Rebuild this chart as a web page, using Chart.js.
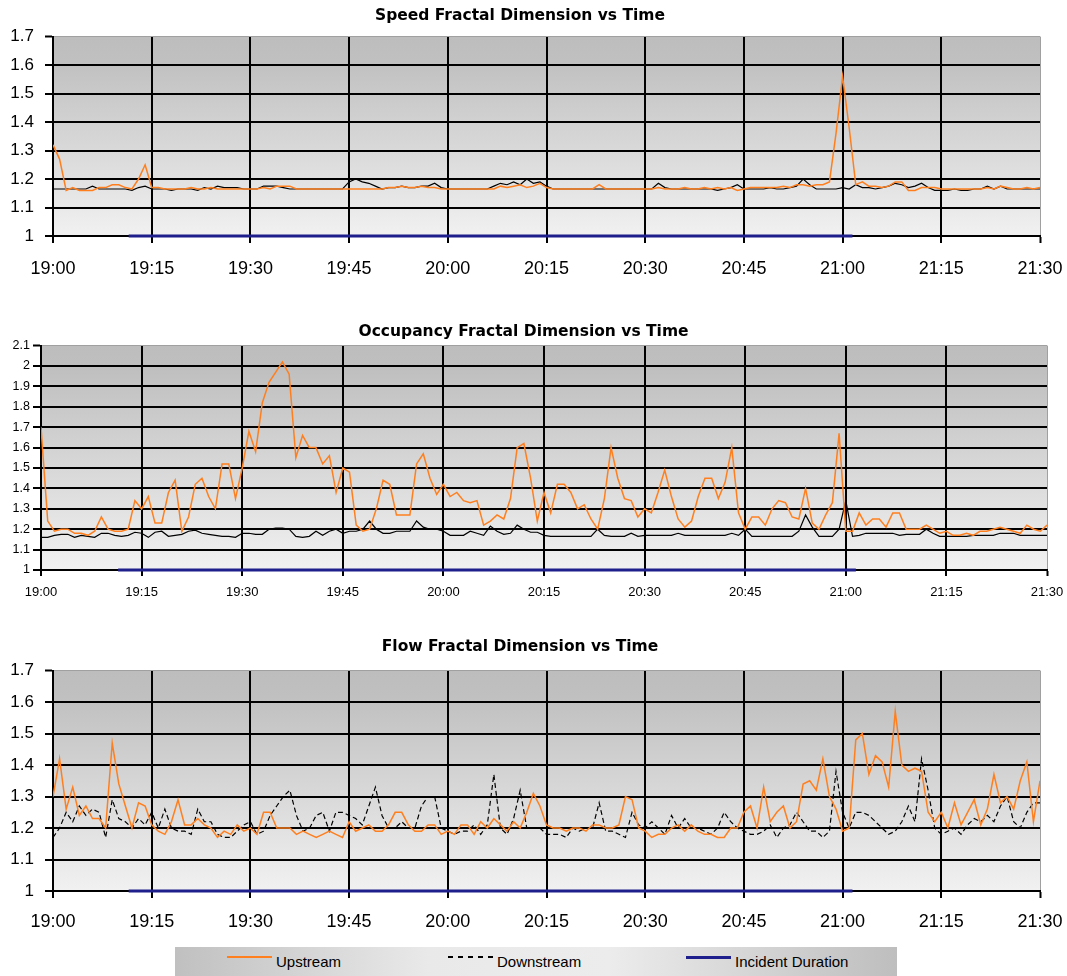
<!DOCTYPE html>
<html>
<head>
<meta charset="utf-8">
<script src="https://cdn.jsdelivr.net/npm/chart.js@4.4.0/dist/chart.umd.min.js"></script>
<style>
  body { margin:0; background:#fff; width:1067px; height:976px; overflow:hidden; position:relative; }
  canvas { position:absolute; left:0; }
  #legend { position:absolute; left:175px; top:947px; width:722px; height:32px;
    background:linear-gradient(to right, #c0c0c0, #e9e9e9 35%, #ececec 60%, #bebebe); }
  .item { position:absolute; top:6px; font-family:'Liberation Sans',sans-serif; font-size:15px; line-height:18px; color:#000; }
  .swatch { position:absolute; top:9px; width:45px; height:2px; }
</style>
</head>
<body>
<canvas id="c1" width="1067" height="300" style="top:0px"></canvas>
<canvas id="c2" width="1067" height="310" style="top:300px"></canvas>
<canvas id="c3" width="1067" height="325" style="top:610px"></canvas>
<div id="legend">
  <div class="swatch" style="left:52px;background:#ff7f1e"></div>
  <div class="item" style="left:101px">Upstream</div>
  <div class="swatch" style="left:273px;height:1.5px;background:repeating-linear-gradient(to right,#000 0 5px,transparent 5px 10px)"></div>
  <div class="item" style="left:322px">Downstream</div>
  <div class="swatch" style="left:511px;height:3px;background:#1e1e8c"></div>
  <div class="item" style="left:560px">Incident Duration</div>
</div>
<script>
'use strict';

// x axis labels, one every 15 minutes
var timeLabels = ['19:00','19:15','19:30','19:45','20:00','20:15','20:30','20:45','21:00','21:15','21:30'];

// one reading per minute from 19:00 to 21:30
var speedUp = [
  1.32,1.27,1.16,1.17,1.16,1.16,1.16,1.17,1.17,1.18,
  1.18,1.17,1.165,1.20,1.25,1.17,1.17,1.165,1.165,1.165,
  1.165,1.17,1.165,1.165,1.17,1.165,1.165,1.165,1.165,1.165,
  1.165,1.165,1.17,1.165,1.175,1.175,1.175,1.165,1.165,1.165,
  1.165,1.165,1.165,1.165,1.165,1.165,1.165,1.165,1.165,1.165,
  1.165,1.17,1.17,1.175,1.17,1.17,1.175,1.17,1.17,1.165,
  1.165,1.165,1.165,1.165,1.165,1.165,1.165,1.165,1.175,1.17,
  1.175,1.18,1.17,1.175,1.185,1.17,1.165,1.165,1.165,1.165,
  1.165,1.165,1.165,1.18,1.165,1.165,1.165,1.165,1.165,1.165,
  1.165,1.165,1.17,1.165,1.165,1.165,1.17,1.165,1.165,1.17,
  1.165,1.17,1.165,1.17,1.16,1.165,1.17,1.17,1.17,1.17,
  1.17,1.175,1.17,1.18,1.18,1.175,1.18,1.18,1.19,1.36,
  1.56,1.38,1.18,1.19,1.175,1.175,1.17,1.175,1.19,1.19,
  1.16,1.16,1.17,1.17,1.17,1.165,1.165,1.165,1.165,1.165,
  1.165,1.165,1.17,1.165,1.175,1.17,1.165,1.165,1.17,1.165,
  1.17
];
var speedDown = [
  1.165,1.165,1.165,1.165,1.165,1.165,1.175,1.165,1.165,1.165,
  1.165,1.165,1.16,1.17,1.175,1.165,1.165,1.165,1.16,1.165,
  1.165,1.165,1.16,1.17,1.165,1.175,1.17,1.17,1.17,1.165,
  1.165,1.165,1.175,1.175,1.175,1.17,1.165,1.165,1.165,1.165,
  1.165,1.165,1.165,1.165,1.165,1.19,1.2,1.19,1.185,1.175,
  1.165,1.17,1.17,1.175,1.17,1.17,1.175,1.175,1.185,1.17,
  1.165,1.165,1.165,1.165,1.165,1.165,1.165,1.175,1.185,1.18,
  1.19,1.18,1.2,1.185,1.19,1.175,1.165,1.165,1.165,1.165,
  1.165,1.165,1.165,1.165,1.165,1.165,1.165,1.165,1.165,1.165,
  1.165,1.165,1.185,1.17,1.165,1.165,1.165,1.165,1.165,1.165,
  1.165,1.16,1.165,1.17,1.18,1.165,1.165,1.165,1.165,1.17,
  1.165,1.165,1.17,1.175,1.2,1.18,1.165,1.165,1.165,1.165,
  1.17,1.165,1.18,1.17,1.17,1.165,1.17,1.175,1.185,1.18,
  1.17,1.175,1.185,1.17,1.16,1.16,1.16,1.165,1.16,1.16,
  1.165,1.165,1.175,1.165,1.175,1.165,1.165,1.165,1.165,1.165,
  1.165
];
var occUp = [
  1.70,1.24,1.19,1.20,1.20,1.18,1.18,1.17,1.19,1.26,
  1.20,1.19,1.19,1.20,1.34,1.30,1.36,1.23,1.23,1.38,
  1.44,1.19,1.26,1.42,1.45,1.36,1.30,1.52,1.52,1.35,
  1.50,1.68,1.58,1.82,1.92,1.97,2.02,1.96,1.55,1.66,
  1.60,1.60,1.52,1.56,1.38,1.50,1.48,1.22,1.19,1.20,
  1.30,1.44,1.42,1.27,1.27,1.27,1.52,1.57,1.45,1.37,
  1.42,1.36,1.38,1.34,1.33,1.34,1.22,1.24,1.27,1.25,
  1.35,1.60,1.62,1.45,1.24,1.38,1.28,1.42,1.42,1.38,
  1.30,1.32,1.25,1.20,1.35,1.60,1.45,1.35,1.34,1.26,
  1.30,1.28,1.38,1.49,1.36,1.25,1.21,1.24,1.36,1.45,
  1.45,1.35,1.43,1.60,1.28,1.20,1.26,1.26,1.22,1.30,
  1.34,1.33,1.26,1.25,1.40,1.23,1.20,1.27,1.33,1.67,
  1.19,1.19,1.28,1.22,1.25,1.25,1.21,1.28,1.28,1.20,
  1.20,1.20,1.22,1.20,1.18,1.19,1.17,1.17,1.18,1.17,
  1.19,1.19,1.20,1.21,1.20,1.19,1.18,1.22,1.20,1.19,
  1.22
];
var occDown = [
  1.16,1.16,1.17,1.175,1.175,1.16,1.17,1.165,1.16,1.18,
  1.18,1.17,1.165,1.17,1.185,1.18,1.16,1.185,1.19,1.165,
  1.17,1.175,1.19,1.195,1.18,1.175,1.17,1.165,1.165,1.16,
  1.18,1.18,1.175,1.175,1.2,1.205,1.205,1.2,1.165,1.16,
  1.165,1.19,1.17,1.19,1.2,1.18,1.19,1.19,1.2,1.24,
  1.2,1.18,1.18,1.19,1.19,1.19,1.24,1.21,1.2,1.2,
  1.19,1.17,1.17,1.17,1.19,1.18,1.17,1.215,1.19,1.175,
  1.18,1.22,1.2,1.185,1.185,1.17,1.165,1.165,1.165,1.165,
  1.165,1.165,1.165,1.2,1.17,1.165,1.165,1.165,1.18,1.165,
  1.17,1.17,1.17,1.17,1.17,1.18,1.17,1.17,1.17,1.17,
  1.17,1.17,1.17,1.18,1.17,1.2,1.165,1.165,1.165,1.165,
  1.165,1.165,1.165,1.19,1.27,1.21,1.165,1.165,1.165,1.2,
  1.34,1.165,1.17,1.18,1.18,1.18,1.18,1.18,1.17,1.175,
  1.175,1.175,1.2,1.18,1.165,1.165,1.165,1.165,1.165,1.17,
  1.17,1.17,1.17,1.18,1.18,1.18,1.17,1.17,1.17,1.17,
  1.17
];
var flowUp = [
  1.30,1.42,1.26,1.33,1.24,1.27,1.23,1.23,1.20,1.47,
  1.34,1.27,1.20,1.28,1.27,1.21,1.19,1.18,1.22,1.29,
  1.21,1.21,1.23,1.21,1.20,1.17,1.19,1.18,1.21,1.19,
  1.20,1.18,1.25,1.25,1.20,1.20,1.20,1.18,1.19,1.18,
  1.17,1.18,1.19,1.18,1.17,1.22,1.19,1.20,1.21,1.19,
  1.19,1.21,1.25,1.25,1.21,1.19,1.19,1.21,1.21,1.18,
  1.19,1.18,1.21,1.21,1.18,1.22,1.20,1.23,1.21,1.19,
  1.22,1.20,1.25,1.31,1.27,1.21,1.20,1.20,1.19,1.20,
  1.20,1.19,1.21,1.21,1.20,1.20,1.21,1.30,1.29,1.20,
  1.19,1.17,1.18,1.18,1.20,1.21,1.19,1.21,1.19,1.18,
  1.18,1.17,1.17,1.20,1.20,1.25,1.27,1.20,1.33,1.22,
  1.25,1.27,1.20,1.22,1.34,1.35,1.32,1.42,1.30,1.26,
  1.19,1.20,1.48,1.50,1.37,1.43,1.41,1.33,1.57,1.40,
  1.38,1.39,1.38,1.25,1.22,1.25,1.20,1.28,1.21,1.25,
  1.29,1.21,1.26,1.37,1.28,1.30,1.26,1.35,1.41,1.22,
  1.35
];
var flowDown = [
  1.17,1.20,1.25,1.22,1.27,1.24,1.26,1.25,1.17,1.29,
  1.23,1.22,1.20,1.23,1.21,1.25,1.20,1.26,1.20,1.19,
  1.19,1.18,1.26,1.22,1.22,1.18,1.17,1.17,1.19,1.21,
  1.22,1.18,1.19,1.24,1.27,1.30,1.32,1.24,1.19,1.20,
  1.24,1.25,1.19,1.25,1.25,1.24,1.23,1.21,1.27,1.33,
  1.24,1.20,1.20,1.22,1.20,1.20,1.27,1.30,1.30,1.20,
  1.19,1.18,1.19,1.19,1.21,1.18,1.21,1.37,1.20,1.18,
  1.23,1.32,1.20,1.20,1.20,1.18,1.18,1.18,1.17,1.20,
  1.19,1.20,1.20,1.28,1.19,1.19,1.18,1.17,1.25,1.21,
  1.20,1.22,1.20,1.18,1.24,1.20,1.23,1.20,1.20,1.19,
  1.18,1.20,1.25,1.22,1.20,1.19,1.18,1.18,1.19,1.21,
  1.17,1.20,1.21,1.25,1.22,1.19,1.19,1.17,1.19,1.38,
  1.25,1.20,1.25,1.25,1.24,1.22,1.20,1.18,1.19,1.22,
  1.27,1.22,1.42,1.32,1.20,1.18,1.19,1.20,1.18,1.21,
  1.23,1.22,1.24,1.22,1.27,1.30,1.22,1.20,1.25,1.28,
  1.28
];

// incident start and end, minutes after 19:00
var incidentWindow = [11.5, 121.5];
var incidentLevel = 1;

var minutes = speedUp.map(function(v, i){ return i; });

// grey gradient behind the plot area
var plotBg = {
  id: 'plotBg',
  beforeDraw: function(chart){
    var a = chart.chartArea;
    var ctx = chart.ctx;
    var g = ctx.createLinearGradient(0, a.top, 0, a.bottom);
    g.addColorStop(0, '#bdbdbd');
    g.addColorStop(0.12, '#c0c0c0');
    g.addColorStop(1, '#f1f1f1');
    ctx.save();
    ctx.fillStyle = g;
    ctx.fillRect(a.left, a.top, a.right - a.left, a.bottom - a.top);
    ctx.restore();
  }
};

function makePanel(id, p){
  var lastX = (timeLabels.length - 1) * 15;
  var upSet = {
    label: 'Upstream', data: p.up, borderColor: '#ff7f1e', borderWidth: 1.5,
    pointRadius: 0, tension: 0
  };
  var downSet = {
    label: 'Downstream', data: p.down, borderColor: '#000', borderWidth: 1.2,
    borderDash: p.dashed ? [5, 3] : [], pointRadius: 0, tension: 0
  };
  var incSet = {
    label: 'Incident Duration',
    data: [{x: incidentWindow[0], y: incidentLevel}, {x: incidentWindow[1], y: incidentLevel}],
    borderColor: '#1e1e8c', borderWidth: 3, pointRadius: 0, clip: 4
  };
  var ctx = document.getElementById(id).getContext('2d');
  return new Chart(ctx, {
    type: 'line',
    data: { labels: minutes, datasets: [incSet, upSet, downSet] },
    plugins: [plotBg],
    options: {
      responsive: false,
      animation: false,
      devicePixelRatio: 1,
      events: [],
      layout: { padding: { left: 0, right: p.right, top: 0, bottom: 0 } },
      plugins: {
        legend: { display: false },
        tooltip: { enabled: false },
        title: {
          display: true, text: p.title, color: '#000',
          font: { family: 'DejaVu Sans', weight: 'bold', size: 15.5 },
          padding: { top: p.titleTop, bottom: p.titleBottom }
        }
      },
      scales: {
        x: {
          type: 'linear', min: 0, max: lastX,
          afterFit: function(s){
            s.height = p.xHeight;
            // end labels may hang outside, the layout padding covers them
            s.paddingLeft = 0;
            s.paddingRight = 0;
          },
          ticks: {
            stepSize: 15, autoSkip: false, maxRotation: 0, padding: p.xPad, color: '#000',
            font: { family: p.family, size: p.xFont },
            callback: function(v){ return timeLabels[v / 15]; }
          },
          grid: {
            color: function(c){ return c.tick && c.tick.value === lastX ? '#a0a0a0' : '#000'; },
            lineWidth: function(c){ return c.tick && c.tick.value === lastX ? 1 : 2; },
            tickColor: '#000', tickWidth: 2, tickLength: p.xTick
          },
          border: { color: '#000', width: 2 }
        },
        y: {
          min: 1, max: p.yMax,
          afterFit: function(s){ s.width = p.yWidth; },
          ticks: {
            stepSize: 0.1, padding: p.yPad, color: '#000',
            font: { family: p.family, size: p.yFont },
            callback: function(v){ return String(+v.toFixed(1)); }
          },
          grid: {
            color: function(c){ return c.tick && c.tick.value > p.yMax - 0.001 ? '#a0a0a0' : '#000'; },
            lineWidth: function(c){ return c.tick && c.tick.value > p.yMax - 0.001 ? 1 : 2; },
            tickColor: '#000', tickWidth: 2, tickLength: p.yTick
          },
          border: { color: '#000', width: 2 }
        }
      }
    }
  });
}

makePanel('c1', {
  title: 'Speed Fractal Dimension vs Time', yMax: 1.7, up: speedUp, down: speedDown, dashed: false,
  family: 'Liberation Sans', xFont: 18, yFont: 17, xPad: 15, yPad: 11, xTick: 7, yTick: 8,
  yWidth: 53, xHeight: 64, right: 27, titleTop: 7, titleBottom: 11
});
makePanel('c2', {
  title: 'Occupancy Fractal Dimension vs Time', yMax: 2.1, up: occUp, down: occDown, dashed: false,
  family: 'Liberation Sans', xFont: 13, yFont: 12.5, xPad: 9, yPad: 3, xTick: 6, yTick: 8,
  yWidth: 41, xHeight: 40, right: 20, titleTop: 23, titleBottom: 4
});
makePanel('c3', {
  title: 'Flow Fractal Dimension vs Time', yMax: 1.7, up: flowUp, down: flowDown, dashed: true,
  family: 'Liberation Sans', xFont: 18, yFont: 17, xPad: 13, yPad: 11, xTick: 7, yTick: 8,
  yWidth: 53, xHeight: 44, right: 27, titleTop: 28, titleBottom: 14
});
</script>
</body>
</html>
